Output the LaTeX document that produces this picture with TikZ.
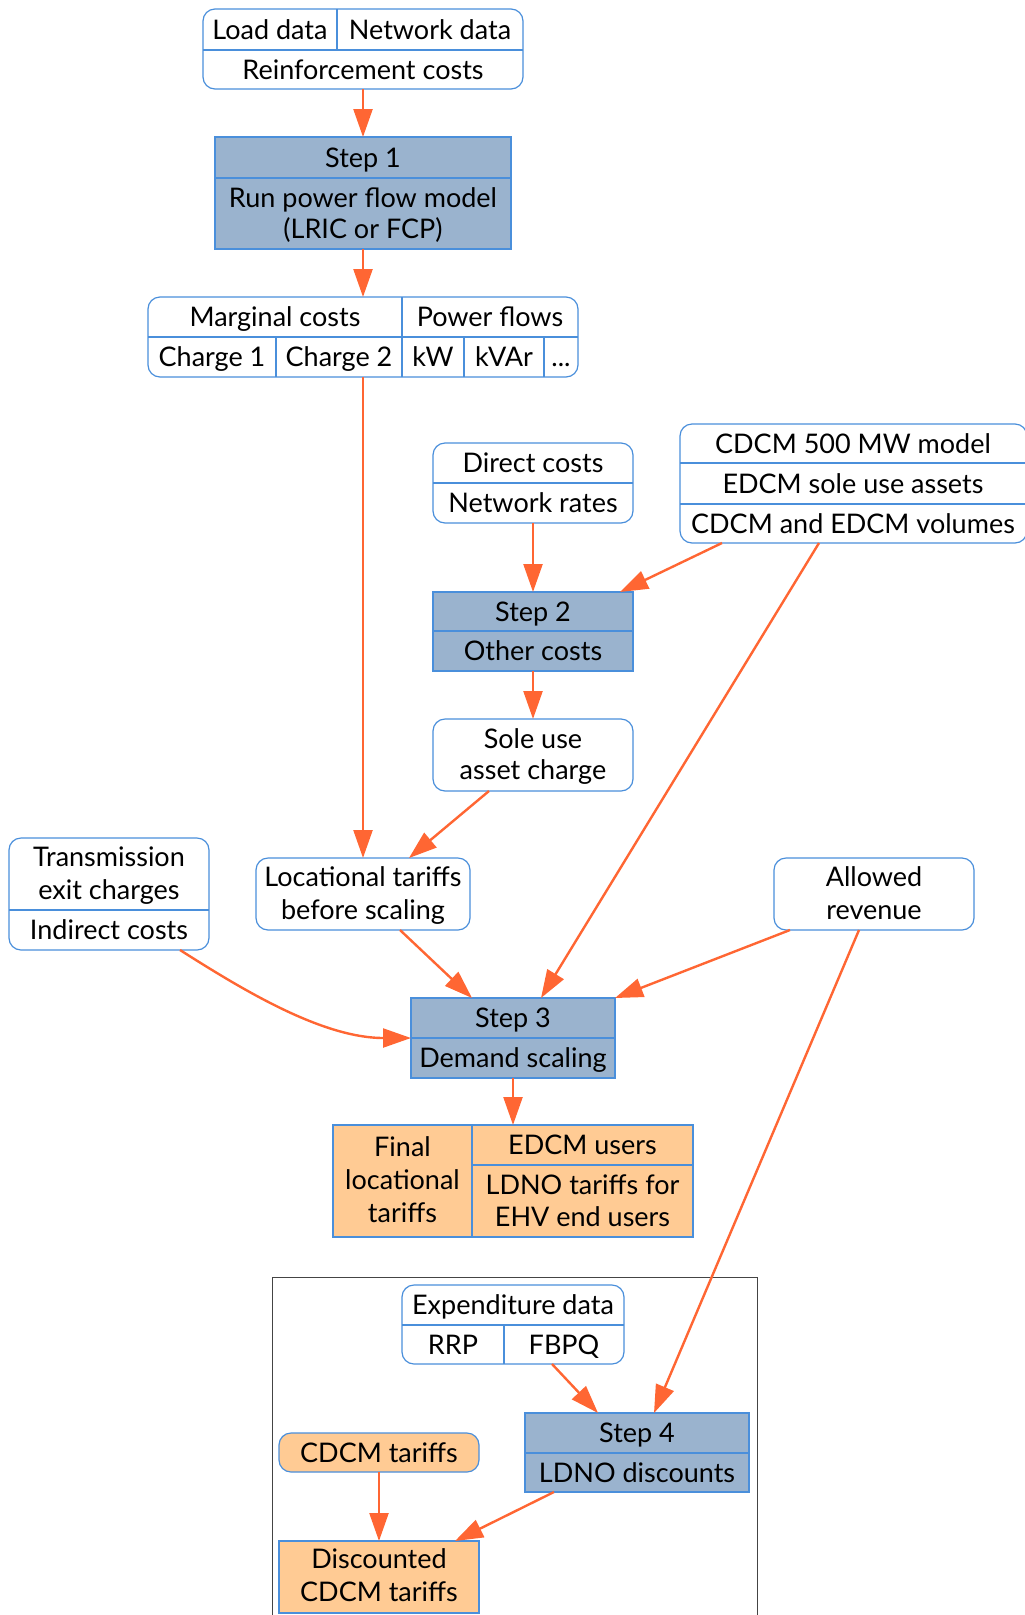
\documentclass[tikz,border=0pt]{standalone}
\usepackage{fontspec}
\setmainfont{Lato}
\usetikzlibrary{arrows.meta}

\definecolor{edgeblue}{HTML}{4A8FDB}
\definecolor{stepfill}{HTML}{9AB3CE}
\definecolor{tarifffill}{HTML}{FFCB94}
\definecolor{flow}{HTML}{FF6633}
\definecolor{framegray}{HTML}{444444}

\tikzset{
  box/.style={draw=edgeblue, line width=1.2pt, inner sep=0pt, outer sep=0pt},
  inbox/.style={box, fill=white, rounded corners=12pt},
  stepbox/.style={box, fill=stepfill},
  outbox/.style={box, fill=tarifffill},
  outround/.style={outbox, rounded corners=12pt},
  sep/.style={draw=edgeblue, line width=1.2pt},
  txt/.style={inner sep=0pt, font=\fontsize{27}{32}\selectfont, text height=19.4pt, text depth=0pt},
  flowarrow/.style={draw=flow, line width=2.4pt, -{Triangle[length=28pt,width=19pt]}},
}

\begin{document}
\begin{tikzpicture}[x=1pt,y=-1pt]
\useasboundingbox (0,0) rectangle (1025,1615);

% frame around the discount stage
\draw[framegray, line width=1pt] (272,1630) |- (757,1277) -- (757,1630);

% ---- inputs to step 1
\node[inbox, minimum width=320pt, minimum height=80pt] (inp) at (363,49) {};
\draw[sep] (203,50) -- (523,50);
\draw[sep] (337,9) -- (337,50);
\node[txt] (inpA) at (270,29.5) {Load data};
\node[txt] (inpB) at (430,29.5) {Network data};
\node[txt] (inpC) at (363,69.5) {Reinforcement costs};

% ---- step 1
\node[stepbox, minimum width=296pt, minimum height=112pt] (s1) at (363,193) {};
\draw[sep] (215,178) -- (511,178);
\node[txt] (s1A) at (363,157.5) {Step 1};
\node[txt] (s1B) at (363,198) {Run power flow model};
\node[txt] (s1C) at (363,229) {(LRIC or FCP)};

% ---- marginal costs and power flows
\node[inbox, minimum width=430pt, minimum height=80pt] (mc) at (363,337) {};
\draw[sep] (148,337) -- (578,337);
\draw[sep] (402,297) -- (402,377);
\draw[sep] (276,337) -- (276,377);
\draw[sep] (464,337) -- (464,377);
\draw[sep] (544,337) -- (544,377);
\node[txt] (mcA) at (275,317) {Marginal costs};
\node[txt] (mcB) at (490,317) {Power flows};
\node[txt] (mcC) at (212,357) {Charge 1};
\node[txt] (mcD) at (339,357) {Charge 2};
\node[txt] (mcE) at (433,357) {kW};
\node[txt] (mcF) at (504,357) {kVAr};
\node[txt] (mcG) at (561,357) {...};

% ---- direct costs
\node[inbox, minimum width=200pt, minimum height=80pt] (dc) at (533,483) {};
\draw[sep] (433,483) -- (633,483);
\node[txt] (dcA) at (533,463) {Direct costs};
\node[txt] (dcB) at (533,503) {Network rates};

% ---- CDCM / EDCM inputs
\node[inbox, minimum width=347pt, minimum height=119pt] (cdcm) at (853.5,483.5) {};
\draw[sep] (680,463) -- (1027,463);
\draw[sep] (680,504) -- (1027,504);
\node[txt] (cdA) at (853,443.5) {CDCM 500 MW model};
\node[txt] (cdB) at (853,483.5) {EDCM sole use assets};
\node[txt] (cdC) at (853,523.5) {CDCM and EDCM volumes};

% ---- step 2
\node[stepbox, minimum width=200pt, minimum height=79pt] (s2) at (533,631.5) {};
\draw[sep] (433,631) -- (633,631);
\node[txt] (s2A) at (533,611.5) {Step 2};
\node[txt] (s2B) at (533,651) {Other costs};

% ---- sole use asset charge
\node[inbox, minimum width=200pt, minimum height=72pt] (sole) at (533,755) {};
\node[txt] (soA) at (533,739) {Sole use};
\node[txt] (soB) at (533,770) {asset charge};

% ---- transmission / indirect costs
\node[inbox, minimum width=200pt, minimum height=112pt] (trans) at (109,894) {};
\draw[sep] (9,910) -- (209,910);
\node[txt] (trA) at (109,857) {Transmission};
\node[txt] (trB) at (109,890) {exit charges};
\node[txt] (trC) at (109,930) {Indirect costs};

% ---- locational tariffs before scaling
\node[inbox, minimum width=214pt, minimum height=72pt] (loc) at (363,894) {};
\node[txt] (loA) at (363,877) {Locational tariffs};
\node[txt] (loB) at (363,910) {before scaling};

% ---- allowed revenue
\node[inbox, minimum width=200pt, minimum height=72pt] (al) at (874,894) {};
\node[txt] (alA) at (874,877) {Allowed};
\node[txt] (alB) at (874,910) {revenue};

% ---- step 3
\node[stepbox, minimum width=204pt, minimum height=80pt] (s3) at (513,1038) {};
\draw[sep] (411,1038) -- (615,1038);
\node[txt] (s3A) at (513,1018) {Step 3};
\node[txt] (s3B) at (513,1058) {Demand scaling};

% ---- final locational tariffs
\node[outbox, minimum width=360pt, minimum height=112pt] (fin) at (513,1181) {};
\draw[sep] (472,1125) -- (472,1237);
\draw[sep] (472,1165) -- (693,1165);
\node[txt] (fiA) at (402.5,1147) {Final};
\node[txt] (fiB) at (402.5,1180) {locational};
\node[txt] (fiC) at (402.5,1213) {tariffs};
\node[txt] (fiD) at (582.5,1145) {EDCM users};
\node[txt] (fiE) at (582.5,1185) {LDNO tariffs for};
\node[txt] (fiF) at (582.5,1217) {EHV end users};

% ---- expenditure data
\node[inbox, minimum width=222pt, minimum height=79pt] (exp) at (513,1324.5) {};
\draw[sep] (402,1325) -- (624,1325);
\draw[sep] (504,1325) -- (504,1364);
\node[txt] (exA) at (513,1305) {Expenditure data};
\node[txt] (exB) at (453,1344.5) {RRP};
\node[txt] (exC) at (564,1344.5) {FBPQ};

% ---- step 4
\node[stepbox, minimum width=224pt, minimum height=79pt] (s4) at (637,1452.5) {};
\draw[sep] (525,1453) -- (749,1453);
\node[txt] (s4A) at (637,1433) {Step 4};
\node[txt] (s4B) at (637,1472.5) {LDNO discounts};

% ---- CDCM tariffs
\node[outround, minimum width=200pt, minimum height=39pt] (cdt) at (379,1452.5) {};
\node[txt] (ctA) at (379,1452.5) {CDCM tariffs};

% ---- discounted CDCM tariffs
\node[outbox, minimum width=200pt, minimum height=72pt] (disc) at (379,1577) {};
\node[txt] (diA) at (379,1559) {Discounted};
\node[txt] (diB) at (379,1592) {CDCM tariffs};

% ---- flows
\draw[flowarrow] (inp.south) -- (s1.north);
\draw[flowarrow] (s1.south) -- (mc.north);
\draw[flowarrow] (mc.south) -- (loc.north);
\draw[flowarrow] (dc.south) -- (s2.north);
\draw[flowarrow] ([xshift=42pt]cdcm.south west) -- ([xshift=-13pt]s2.north east);
\draw[flowarrow] ([xshift=139pt]cdcm.south west) -- ([xshift=130pt]s3.north west);
\draw[flowarrow] (s2.south) -- (sole.north);
\draw[flowarrow] ([xshift=56pt]sole.south west) -- ([xshift=153pt]loc.north west);
\draw[flowarrow] ([xshift=171pt]trans.south west) .. controls +(60,38) and +(-90,0) .. (s3.west);
\draw[flowarrow] ([xshift=144pt]loc.south west) -- ([xshift=61pt]s3.north west);
\draw[flowarrow] ([xshift=16pt]al.south west) -- (s3.north east);
\draw[flowarrow] ([xshift=85pt]al.south west) -- ([xshift=129pt]s4.north west);
\draw[flowarrow] (s3.south) -- (fin.north);
\draw[flowarrow] ([xshift=150pt]exp.south west) -- ([xshift=73pt]s4.north west);
\draw[flowarrow] (cdt.south) -- (disc.north);
\draw[flowarrow] ([xshift=29pt]s4.south west) -- ([xshift=176pt]disc.north west);
\end{tikzpicture}
\end{document}
